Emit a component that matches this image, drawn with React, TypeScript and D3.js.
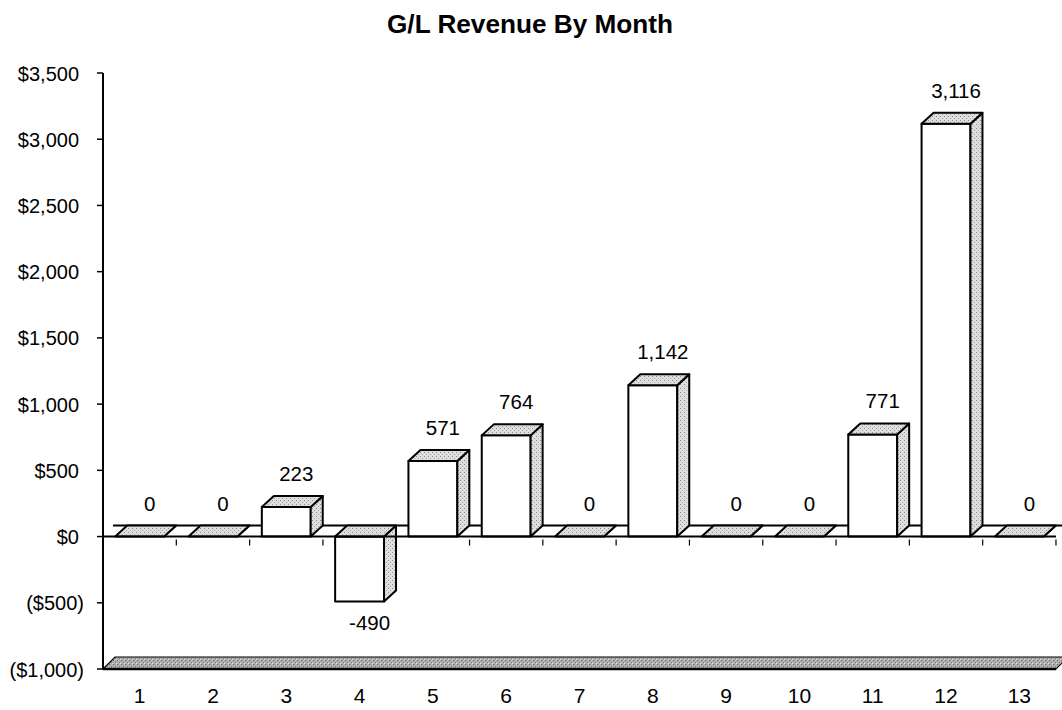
import React from "react";
import * as d3 from "d3";

const months = ["1", "2", "3", "4", "5", "6", "7", "8", "9", "10", "11", "12", "13"];
const revenue = [0, 0, 223, -490, 571, 764, 0, 1142, 0, 0, 771, 3116, 0];
const yTicks = [3500, 3000, 2500, 2000, 1500, 1000, 500, 0, -500, -1000];

const W = 1062, H = 710;
const margin = { top: 73, right: 6, bottom: 41, left: 103 };
const dx = 12, dy = 11; // 3d depth offset
const font = "'Liberation Sans', Arial, sans-serif";

const fmt = (v: number) => d3.format(",")(v).replace("\u2212", "-");
const money = (v: number) => (v < 0 ? `($${fmt(-v)})` : `$${fmt(v)}`);

export default function App() {
  const x = d3.scaleBand<string>()
    .domain(months)
    .range([margin.left, W - margin.right])
    .paddingInner(0.333)
    .paddingOuter(0.1667);
  const y = d3.scaleLinear().domain([-1000, 3500]).range([H - margin.bottom, margin.top]);
  const y0 = y(0);
  const yMin = y(-1000);
  const step = x.step();
  const bw = x.bandwidth();
  const xStart = margin.left;
  const xEnd = W - margin.right;

  const poly = (pts: number[][]) => pts.map(p => p.join(",")).join(" ");

  return (
    <svg width={W} height={H} style={{ position: "absolute", left: 0, top: 0, background: "#fff" }}>
      <defs>
        <pattern id="stip" width="4" height="4" patternUnits="userSpaceOnUse">
          <rect width="4" height="4" fill="#dedede" />
          <rect x="0" y="0" width="1" height="1" fill="#8a8a8a" />
          <rect x="2" y="2" width="1" height="1" fill="#a4a4a4" />
        </pattern>
        <pattern id="floorStip" width="4" height="4" patternUnits="userSpaceOnUse">
          <rect width="4" height="4" fill="#b0b0b0" />
          <rect x="1" y="0" width="1" height="1" fill="#6a6a6a" />
          <rect x="3" y="2" width="1" height="1" fill="#7c7c7c" />
          <rect x="0" y="3" width="1" height="1" fill="#e0e0e0" />
        </pattern>
      </defs>

      <text x={530} y={33} textAnchor="middle" fontFamily={font} fontWeight="bold" fontSize={25}
        textLength={286} lengthAdjust="spacingAndGlyphs">
        G/L Revenue By Month
      </text>

      {/* floor slab at the minimum */}
      <polygon
        points={poly([[xStart, yMin], [xStart + dx, yMin - dy - 1], [xEnd + dx, yMin - dy - 1], [xEnd, yMin]])}
        fill="url(#floorStip)" stroke="#000" strokeWidth={1.2} />
      <line x1={xStart} x2={xEnd} y1={yMin} y2={yMin} stroke="#000" strokeWidth={2.5} />

      {/* back edge of the zero plane */}
      <line x1={xStart + dx - 2} x2={xEnd + dx} y1={y0 - dy} y2={y0 - dy} stroke="#000" strokeWidth={2} />

      {/* y axis */}
      <line x1={xStart} x2={xStart} y1={margin.top} y2={yMin} stroke="#000" strokeWidth={2} />
      {yTicks.map(t => (
        <g key={t}>
          <line x1={xStart - 6} x2={xStart} y1={y(t)} y2={y(t)} stroke="#000" strokeWidth={1.5} />
          <text x={t < 0 ? 84 : 79} y={y(t) + 7.5} textAnchor="end" fontFamily={font} fontSize={20}>{money(t)}</text>
        </g>
      ))}

      {/* category ticks along zero */}
      {months.map((m, i) => (
        <line key={m} x1={xStart + (i + 1) * step} x2={xStart + (i + 1) * step}
          y1={y0 + 3} y2={y0 + 9} stroke="#000" strokeWidth={1.2} />
      ))}

      {/* bars */}
      {months.map((m, i) => {
        const v = revenue[i];
        const x0 = x(m)!;
        const x1 = x0 + bw;
        const yt = y(Math.max(v, 0));
        const yb = y(Math.min(v, 0));
        return (
          <g key={m} stroke="#000" strokeWidth={2} strokeLinejoin="round">
            {yb > yt && <rect x={x0} y={yt} width={bw} height={yb - yt} fill="#fff" />}
            <polygon points={poly([[x1, yt], [x1 + dx, yt - dy], [x1 + dx, yb - dy], [x1, yb]])} fill="url(#stip)" />
            <polygon points={poly([[x0, yt], [x0 + dx, yt - dy], [x1 + dx, yt - dy], [x1, yt]])} fill="url(#stip)" />
          </g>
        );
      })}

      {/* front zero line */}
      <line x1={xStart} x2={xEnd} y1={y0} y2={y0} stroke="#000" strokeWidth={2} />

      {/* value labels */}
      {months.map((m, i) => {
        const v = revenue[i];
        const cx = x(m)! + bw / 2 + 10;
        const ly = v >= 0 ? y(v) - dy - 15 : y(v) + 29;
        return (
          <text key={m} x={cx} y={ly} textAnchor="middle" fontFamily={font} fontSize={20.5}>{fmt(v)}</text>
        );
      })}

      {/* x labels */}
      {months.map(m => (
        <text key={m} x={x(m)! + bw / 2} y={703} textAnchor="middle" fontFamily={font} fontSize={21}>{m}</text>
      ))}
    </svg>
  );
}
